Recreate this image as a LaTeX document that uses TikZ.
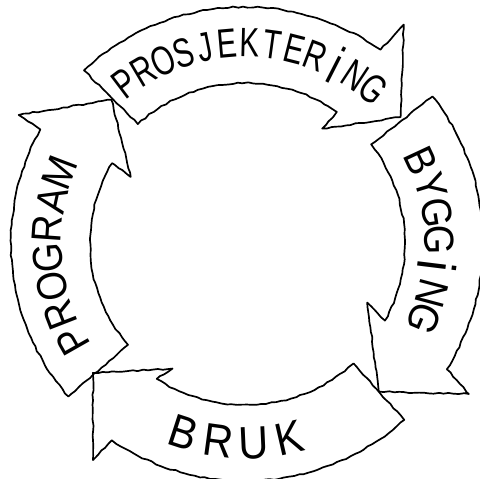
\documentclass[tikz,border=0pt]{standalone}
\usepackage{fontspec}
\newfontfamily\handnarrow{Liberation Sans}[FakeStretch=0.72]
\newfontfamily\handwide{Liberation Sans}[FakeStretch=0.9]
\newcommand{\talli}{{\fontsize{54}{54}\selectfont i}}
\usetikzlibrary{decorations.pathmorphing}
\tikzset{
  every picture/.style={line width=1.7pt},
  band/.style={draw, line join=round, decorate, decoration={random steps, segment length=5pt, amplitude=0.7pt}},
  glyph/.style={inner sep=0pt, font=\handwide\fontsize{42}{42}\selectfont},
  glyphnarrow/.style={inner sep=0pt, font=\handnarrow\fontsize{41}{41}\selectfont},
}

\begin{document}
\begin{tikzpicture}
  \pgfmathsetseed{7}
  \useasboundingbox (-245pt,-236pt) rectangle (235pt,243pt);
  \draw[band] (133:236pt) arc[start angle=133, end angle=55, radius=236pt] -- (54:270pt) -- (39:200pt) -- (56:138pt) -- (55:160pt) arc[start angle=55, end angle=132, radius=160pt] -- cycle;
  \draw[band] (38:238pt) arc[start angle=38, end angle=-32, radius=238pt] -- (-34:270pt) -- (-48:200pt) -- (-26:136pt) -- (-29:160pt) arc[start angle=-29, end angle=38, radius=160pt] -- cycle;
  \draw[band] (-48:238pt) arc[start angle=-48, end angle=-124, radius=238pt] -- (-125:265pt) -- (-139.5:200pt) -- (-120:145pt) -- (-123:162pt) arc[start angle=-123, end angle=-48, radius=162pt] -- cycle;
  \draw[band] (221:234pt) arc[start angle=221, end angle=151, radius=234pt] -- (150.5:260pt) -- (133:196pt) -- (150:132pt) -- (149:155pt) arc[start angle=149, end angle=221, radius=155pt] -- cycle;
  \foreach \ch [count=\i] in {P,R,O,S,J,E,K,T,E,R,\talli,N,G}
    \node[glyphnarrow, rotate={127-6.4*(\i-1)-90}] (top\i) at ({127-6.4*(\i-1)}:200pt) {\ch};
  \foreach \ch [count=\i] in {B,Y,G,G,\talli,N,G}
    \node[glyph, rotate={25-8*(\i-1)-90}] (right\i) at ({25-8*(\i-1)}:194pt) {\ch};
  \foreach \ch [count=\i] in {B,R,U,K}
    \node[glyph, font=\handwide\fontsize{46}{46}\selectfont, rotate={252+10.3*(\i-1)+90}] (bottom\i) at ({252+10.3*(\i-1)}:200pt) {\ch};
  \foreach \ch [count=\i] in {P,R,O,G,R,A,M}
    \node[glyph, rotate={209.6-8.4*(\i-1)-90}] (left\i) at ({209.6-8.4*(\i-1)}:198pt) {\ch};
\end{tikzpicture}
\end{document}
